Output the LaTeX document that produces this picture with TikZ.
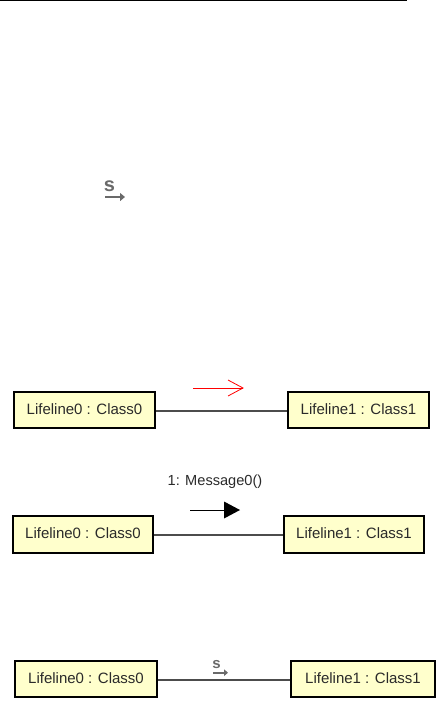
\documentclass[tikz,border=0pt]{standalone}
\usepackage{fontspec}
\setmainfont{Liberation Sans}
\usetikzlibrary{arrows.meta}
\definecolor{lifefill}{HTML}{FFFFCC}
\definecolor{txt}{HTML}{2A2A2A}
\definecolor{iconc}{HTML}{6A6A6A}
\newcommand{\lifetext}[1]{\raisebox{2pt}{#1}}
\tikzset{
 life/.style={draw=black,line width=2.3pt,fill=lifefill,minimum height=36.5pt,inner sep=0pt,font=\fontsize{15}{16}\selectfont,text=txt},
 link/.style={draw=black!70,line width=1.2pt},
 msgred/.style={draw=red,line width=0.8pt},
 msgblack/.style={draw=black,line width=1pt},
 sico/.style={font=\fontsize{20}{20}\selectfont\bfseries,text=iconc,inner sep=0pt},
 sicosmall/.style={font=\fontsize{15}{15}\selectfont\bfseries,text=iconc,inner sep=0pt},
 sarrow/.style={draw=iconc,line width=2pt,-{Triangle[length=5pt,width=8pt]}},
 lbl/.style={font=\fontsize{14.6}{16}\selectfont,text=txt,inner sep=0pt}
}
\begin{document}
\begin{tikzpicture}[x=1pt,y=-1pt]
\useasboundingbox (0,0) rectangle (443,706);
\fill[black] (0,0) rectangle (407,1.5);
% free icon
\node[sico] (s0) at (109.5,186.5) {s};
\coordinate (s0a) at (105,197); \coordinate (s0b) at (125,197);
\draw[sarrow] (s0a) -- (s0b);
% row 1
\node[life,minimum width=141.5pt] (a1) at (84.5,410) {\lifetext{Lifeline0 : Class0}};
\node[life,minimum width=141.5pt] (b1) at (358.5,410) {\lifetext{Lifeline1 : Class1}};
\draw[link] ([yshift=-1pt]a1.east) -- ([yshift=-1pt]b1.west);
\coordinate (r1) at (193,388); \coordinate (r2) at (243,388);
\draw[msgred] (r1) -- (r2);
\draw[msgred] (228,380) -- (r2) -- (228,396);
% row 2
\node[life,minimum width=140.5pt] (a2) at (83,534.5) {\lifetext{Lifeline0 : Class0}};
\node[life,minimum width=140.5pt] (b2) at (354,534.5) {\lifetext{Lifeline1 : Class1}};
\draw[link] ([yshift=-0.5pt]a2.east) -- ([yshift=-0.5pt]b2.west);
\node[lbl] (m2) at (215,481.5) {1: Message0()};
\coordinate (k1) at (190,510); \coordinate (k2) at (240,510);
\draw[msgblack] (k1) -- (225,510);
\fill[black] (224,501.5) -- (k2) -- (224,518.5) -- cycle;
% row 3
\node[life,minimum width=142.5pt] (a3) at (86,679) {\lifetext{Lifeline0 : Class0}};
\node[life,minimum width=143.5pt] (b3) at (363,679) {\lifetext{Lifeline1 : Class1}};
\draw[link] ([yshift=-1pt]a3.east) -- ([yshift=-1pt]b3.west);
\node[sicosmall] (s3) at (216.5,664.5) {s};
\coordinate (s3a) at (213,672.7); \coordinate (s3b) at (228,672.7);
\draw[sarrow,line width=1.6pt,-{Triangle[length=4pt,width=6.5pt]}] (s3a) -- (s3b);
\end{tikzpicture}
\end{document}
